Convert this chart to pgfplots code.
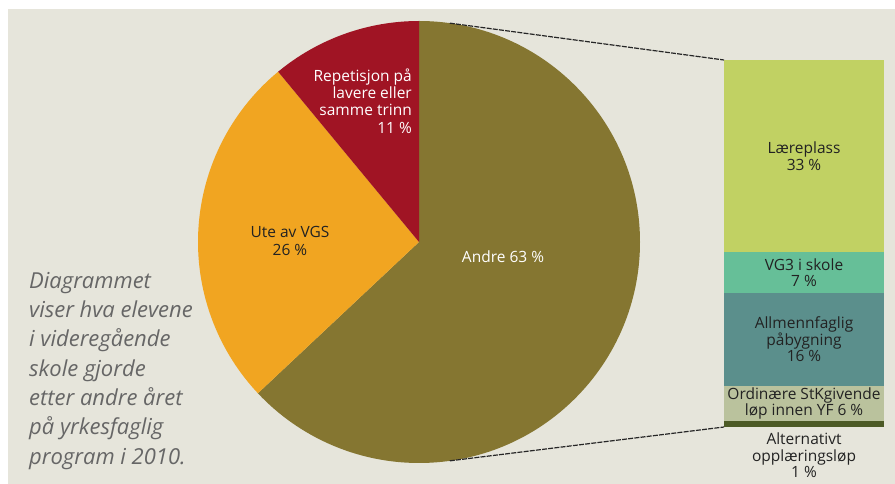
\documentclass[border=0pt]{standalone}
\usepackage{fontspec}
\setmainfont{Open Sans}
\usepackage{pgfplots}
\usepackage{pgfplotstable}
\pgfplotsset{compat=1.18}

\definecolor{bgc}{RGB}{230,229,219}
\definecolor{andre}{RGB}{133,118,49}
\definecolor{ute}{RGB}{241,165,33}
\definecolor{rep}{RGB}{160,20,36}
\definecolor{laere}{RGB}{193,209,99}
\definecolor{vgtre}{RGB}{102,191,152}
\definecolor{allm}{RGB}{91,143,140}
\definecolor{ord}{RGB}{186,194,157}
\definecolor{alt}{RGB}{76,90,37}
\definecolor{txt}{RGB}{34,34,34}

% pie shares (percent)
\def\pAndre{63}
\def\pUte{26}
\def\pRep{11}

% breakdown of "Andre"
\pgfplotstableread{
x alt ord allm vgtre laere
0 1   6   16   7     33
}\bardata

\pgfmathsetmacro\aA{90-3.6*\pAndre}
\pgfmathsetmacro\aB{\aA-3.6*\pUte}
\pgfmathsetmacro\aC{\aB-3.6*\pRep}

\tikzset{blab/.style={font=\fontsize{15.5}{16.5}\selectfont, text=txt, align=center, inner sep=0pt}}

\begin{document}
\begin{tikzpicture}[x=1pt,y=1pt]
\fill[white] (0,0) rectangle (895,484);
\fill[bgc] (8,0) rectangle (895,475);

% pie
\begin{axis}[at={(419pt,242pt)}, anchor=center,
    width=442pt, height=442pt, scale only axis,
    xmin=-1, xmax=1, ymin=-1, ymax=1,
    hide axis, clip=false]
\fill[andre] (axis cs:0,0) -- (axis cs:0,1) arc[start angle=90, end angle=\aA, radius=221pt] -- cycle;
\fill[ute] (axis cs:0,0) -- ({cos(\aA)},{sin(\aA)}) arc[start angle=\aA, end angle=\aB, radius=221pt] -- cycle;
\fill[rep] (axis cs:0,0) -- ({cos(\aB)},{sin(\aB)}) arc[start angle=\aB, end angle=\aC, radius=221pt] -- cycle;
\coordinate (pt) at (axis cs:{cos(82)},{sin(82)});
\coordinate (pb) at (axis cs:{cos(-82)},{sin(-82)});
\end{axis}

% stacked bar
\begin{axis}[at={(724pt,57pt)}, anchor=south west,
    width=160pt, height=367pt, scale only axis,
    ybar stacked, bar width=160pt,
    xmin=-0.5, xmax=0.5, ymin=0, ymax=63,
    hide axis, clip=false]
\addplot[fill=alt, draw=none] table[x=x, y=alt] {\bardata};
\addplot[fill=ord, draw=none] table[x=x, y=ord] {\bardata};
\addplot[fill=allm, draw=none] table[x=x, y=allm] {\bardata};
\addplot[fill=vgtre, draw=none] table[x=x, y=vgtre] {\bardata};
\addplot[fill=laere, draw=none] table[x=x, y=laere] {\bardata};
\coordinate (l1) at (axis cs:0,46.5);
\coordinate (l2) at (axis cs:0,26.5);
\coordinate (l3) at (axis cs:0,15);
\coordinate (l4) at (axis cs:0,4);
\coordinate (l5) at (axis cs:0,0);
\coordinate (bt) at (axis cs:-0.5,63);
\coordinate (bb) at (axis cs:-0.5,0);
\end{axis}

\node[blab] at (l1) {Læreplass\\33 \%};
\node[blab] at (l2) {VG3 i skole\\7 \%};
\node[blab] at (l3) {Allmennfaglig\\påbygning\\16 \%};
\node[blab] at (l4) {Ordinære StKgivende\\løp innen YF 6 \%};
\node[blab, anchor=north, yshift=-6pt] at (l5) {Alternativt\\opplæringsløp\\1 \%};

\draw[black!85, line width=1.2pt, dash pattern=on 5pt off 1.2pt] (pt) -- (bt);
\draw[black!85, line width=1.2pt, dash pattern=on 5pt off 1.2pt] (pb) -- (bb);

% pie labels
\begin{scope}[every node/.style={font=\fontsize{15.5}{17.3}\selectfont, inner sep=0pt}]
\node[anchor=east, align=right, text=white] at (412,383) {Repetisjon på\\lavere eller\\samme trinn\\11 \%};
\node[align=center, text=txt] at (290,243) {Ute av VGS\\26 \%};
\node[align=center, text=white] at (503,227) {Andre 63 \%};
\end{scope}

\node[anchor=north west, align=left, inner sep=0pt, text=black!60,
      font=\fontsize{22}{29.3}\selectfont\itshape] at (29,212)
  {Diagrammet\\viser hva elevene\\i videregående\\skole gjorde\\etter andre året\\på yrkesfaglig\\program i 2010.};
\end{tikzpicture}
\end{document}
